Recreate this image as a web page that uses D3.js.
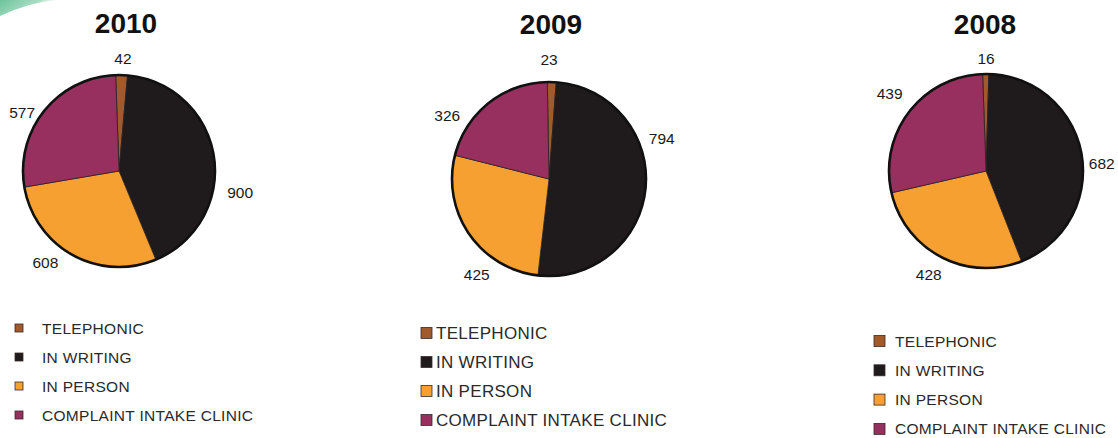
<!DOCTYPE html>
<html>
<head>
<meta charset="utf-8">
<script src="https://cdn.jsdelivr.net/npm/d3@7"></script>
<style>
  html, body { margin: 0; padding: 0; background: #ffffff; }
  svg { display: block; }
</style>
</head>
<body>
<svg id="chart" width="1118" height="438"></svg>
<script>
// Complaint intake by channel, one pie per year
const years = ["2010", "2009", "2008"];
const categories = ["TELEPHONIC", "IN WRITING", "IN PERSON", "COMPLAINT INTAKE CLINIC"];
const values2010 = [42, 900, 608, 577];
const values2009 = [23, 794, 425, 326];
const values2008 = [16, 682, 428, 439];
const colors = ["#a05a2c", "#1f1b1c", "#f5a030", "#98305f"];

// Layout for each panel: pie centre/radius, label angles (deg, clockwise from 12 o'clock), legend
const panels = [
  { values: values2010, cx: 119, cy: 171, r: 96, start: -2, titleX: 126, titleY: 33,
    labelAngles: [2, 100, 219, 301], labelR: [113, 123, 117, 113],
    legend: { x: 15, y: 328, step: 29, box: 8, textX: 42, size: 15.5 } },
  { values: values2009, cx: 549, cy: 179, r: 97, start: -1, titleX: 551, titleY: 34,
    labelAngles: [0, 70, 217, 302], labelR: [120, 120, 120, 120],
    legend: { x: 421, y: 333, step: 29, box: 11, textX: 436, size: 17 } },
  { values: values2008, cx: 986, cy: 171, r: 97, start: -2, titleX: 985, titleY: 34,
    labelAngles: [0, 86, 209, 309], labelR: [113, 116, 118, 124],
    legend: { x: 874, y: 341, step: 29.3, box: 11, textX: 895, size: 15.5 } }
];

const svg = d3.select("#chart");
const rad = Math.PI / 180;

// corner swoosh
const defs = svg.append("defs");
const grad = defs.append("linearGradient").attr("id", "swoosh")
  .attr("x1", "0").attr("y1", "0").attr("x2", "1").attr("y2", "0.4");
grad.append("stop").attr("offset", "0").attr("stop-color", "#6cc49c");
grad.append("stop").attr("offset", "0.6").attr("stop-color", "#a9dcc3");
grad.append("stop").attr("offset", "1").attr("stop-color", "#ffffff").attr("stop-opacity", 0);
svg.append("path")
  .attr("d", "M0,0 L58,0 Q30,2 0,16 Z")
  .attr("fill", "url(#swoosh)");

panels.forEach((p, i) => {
  const g = svg.append("g");

  g.append("text")
    .attr("x", p.titleX).attr("y", p.titleY)
    .attr("text-anchor", "middle")
    .attr("font-family", "Liberation Sans, Arial, sans-serif")
    .attr("font-weight", "bold")
    .attr("font-size", 28)
    .attr("fill", "#111")
    .text(years[i]);

  const pie = d3.pie().sort(null)
    .startAngle(p.start * rad)
    .endAngle((p.start + 360) * rad);
  const arc = d3.arc().innerRadius(0).outerRadius(p.r);
  const arcs = pie(p.values);

  const pg = g.append("g").attr("transform", `translate(${p.cx},${p.cy})`);
  pg.selectAll("path.slice")
    .data(arcs)
    .join("path")
    .attr("class", "slice")
    .attr("d", arc)
    .attr("fill", (d, j) => colors[j])
    .attr("stroke", "#2a1f1f")
    .attr("stroke-width", 0.8)
    .attr("stroke-linejoin", "round");
  pg.append("circle")
    .attr("r", p.r)
    .attr("fill", "none")
    .attr("stroke", "#111")
    .attr("stroke-width", 2.6);

  // value labels outside the pie
  pg.selectAll("text.value")
    .data(arcs)
    .join("text")
    .attr("class", "value")
    .attr("x", (d, j) => p.labelR[j] * Math.sin(p.labelAngles[j] * rad))
    .attr("y", (d, j) => -p.labelR[j] * Math.cos(p.labelAngles[j] * rad))
    .attr("dy", "0.36em")
    .attr("text-anchor", "middle")
    .attr("font-family", "Liberation Sans, Arial, sans-serif")
    .attr("font-size", 15.5)
    .attr("fill", "#1a1a1a")
    .text(d => d.data);

  // legend
  const L = p.legend;
  const lg = g.append("g");
  const rows = lg.selectAll("g.row")
    .data(categories)
    .join("g")
    .attr("class", "row")
    .attr("transform", (d, j) => `translate(0,${L.y + j * L.step})`);
  rows.append("rect")
    .attr("x", L.x).attr("y", -L.box / 2)
    .attr("width", L.box).attr("height", L.box)
    .attr("fill", (d, j) => colors[j])
    .attr("stroke", "#3a2a2a")
    .attr("stroke-width", 0.8);
  rows.append("text")
    .attr("x", L.textX)
    .attr("dy", "0.36em")
    .attr("font-family", "Liberation Sans, Arial, sans-serif")
    .attr("font-size", L.size)
    .attr("letter-spacing", 0.3)
    .attr("fill", "#2a2a2a")
    .text(d => d);
});
</script>
</body>
</html>
